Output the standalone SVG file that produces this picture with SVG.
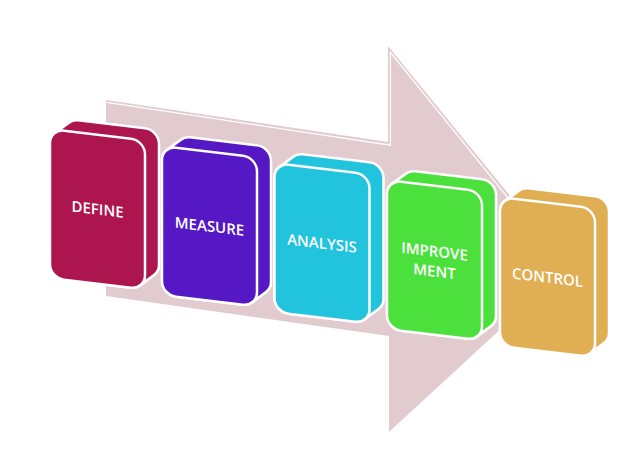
<svg xmlns="http://www.w3.org/2000/svg" xmlns:xlink="http://www.w3.org/1999/xlink" width="640" height="464" viewBox="0 0 640 464">
  <style>
    .hull { stroke: #ffffff; stroke-width: 2.5; stroke-linejoin: round; }
    .face { stroke: #ffffff; stroke-width: 2.5; }
    .lbl { font-family: "Open Sans", "Liberation Sans", sans-serif; font-weight: 600; font-size: 15px; fill: #ffffff; text-anchor: middle; }
    .arrow { fill: #e2cbcf; }
    .hl { fill: none; stroke: #ffffff; stroke-width: 1.3; }
  </style>
  <defs>
    <path id="hull" d="M0,135 L0,14 A14,14 0 0 1 4.89,3.37 L18.89,-8.63 A14,14 0 0 1 28,-12 L95,-12 A14,14 0 0 1 109,2 L109,123 A14,14 0 0 1 104.11,133.63 L90.11,145.63 A14,14 0 0 1 81,149 L14,149 A14,14 0 0 1 0,135 Z"/>
    <rect id="face" x="0" y="0" width="95" height="149" rx="14" ry="14"/>
  </defs>

  <g id="connectors">
    <g id="big-arrow">
      <polygon class="arrow" points="106,100 388,142 388,46 568,267 389,432 389,336 106,296"/>
      <polyline class="hl" points="107,102.4 390.4,145.2 390.4,52.4 560,262"/>
    </g>
  </g>

  <g id="define" transform="translate(50,129) skewY(6.8)">
    <use xlink:href="#hull" class="hull" fill="#ad154e"/>
    <use xlink:href="#face" class="face" fill="#ad154e"/>
    <text class="lbl" x="47.5" y="80">DEFINE</text>
  </g>

  <g id="measure" transform="translate(162,146) skewY(6.8)">
    <use xlink:href="#hull" class="hull" fill="#5518c4"/>
    <use xlink:href="#face" class="face" fill="#5518c4"/>
    <text class="lbl" x="47.5" y="80">MEASURE</text>
  </g>

  <g id="analysis" transform="translate(274.5,163) skewY(6.8)">
    <use xlink:href="#hull" class="hull" fill="#22c3dd"/>
    <use xlink:href="#face" class="face" fill="#22c3dd"/>
    <text class="lbl" x="47.5" y="80">ANALYSIS</text>
  </g>

  <g id="improvement" transform="translate(387,180) skewY(6.8)">
    <use xlink:href="#hull" class="hull" fill="#4be03b"/>
    <use xlink:href="#face" class="face" fill="#4be03b"/>
    <text class="lbl" x="47.5" y="71">IMPROVE</text>
    <text class="lbl" x="47.5" y="91">MENT</text>
  </g>

  <g id="control" transform="translate(500,197) skewY(6.8)">
    <use xlink:href="#hull" class="hull" fill="#e0ae53"/>
    <use xlink:href="#face" class="face" fill="#e0ae53"/>
    <text class="lbl" x="47.5" y="80">CONTROL</text>
  </g>
</svg>
